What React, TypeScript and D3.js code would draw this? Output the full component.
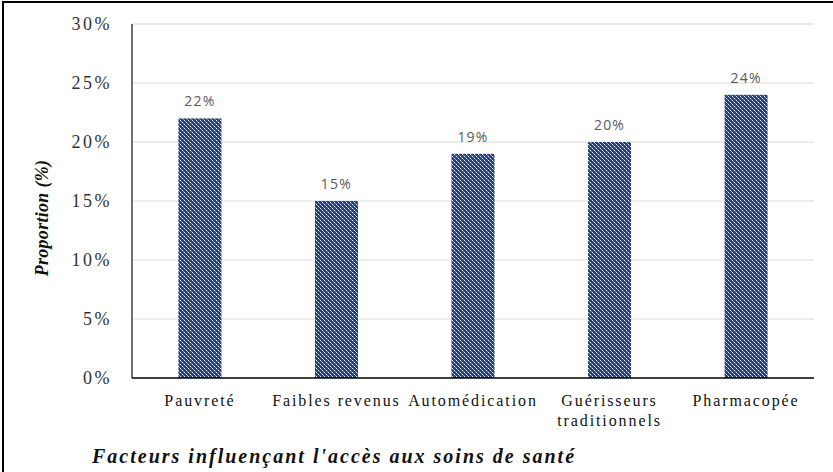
import { useEffect, useRef } from 'react'
import * as d3 from 'd3'

const categories = ['Pauvreté', 'Faibles revenus', 'Automédication', 'Guérisseurs\ntraditionnels', 'Pharmacopée']
const values = [22, 15, 19, 20, 24]
const yTicks = [0, 5, 10, 15, 20, 25, 30]

const width = 833
const height = 472

const App = () => {
  const ref = useRef<SVGSVGElement>(null)

  useEffect(() => {
    const svg = d3.select(ref.current)
    svg.selectAll('*').remove()

    const left = 132, right = 814, top = 24, bottom = 378

    const defs = svg.append('defs')
    const pat = defs.append('pattern')
      .attr('id', 'dots')
      .attr('patternUnits', 'userSpaceOnUse')
      .attr('width', 4)
      .attr('height', 4)
    pat.append('rect').attr('width', 4).attr('height', 4).attr('fill', '#22408c')
    pat.append('rect').attr('x', 0).attr('y', 0).attr('width', 1).attr('height', 1).attr('fill', '#eef2fa')
    pat.append('rect').attr('x', 2).attr('y', 2).attr('width', 1).attr('height', 1).attr('fill', '#eef2fa')
    pat.append('rect').attr('x', 1).attr('y', 1).attr('width', 1).attr('height', 1).attr('fill', '#7f94c8')
    pat.append('rect').attr('x', 3).attr('y', 3).attr('width', 1).attr('height', 1).attr('fill', '#7f94c8')

    svg.append('rect').attr('width', width).attr('height', height).attr('fill', '#fff')
    // frame (top + left only visible)
    svg.append('line').attr('x1', 2).attr('x2', width).attr('y1', 2).attr('y2', 2).attr('stroke', '#000').attr('stroke-width', 2)
    svg.append('line').attr('x1', 3).attr('x2', 3).attr('y1', 2).attr('y2', height).attr('stroke', '#000').attr('stroke-width', 2)

    const x = d3.scaleBand<string>().domain(categories).range([left, right]).paddingInner(0.685).paddingOuter(0.34)
    const y = d3.scaleLinear().domain([0, 30]).range([bottom, top])

    // gridlines
    svg.append('g').selectAll('line').data(yTicks.filter(t => t > 0)).enter().append('line')
      .attr('x1', left).attr('x2', right)
      .attr('y1', d => y(d)).attr('y2', d => y(d))
      .attr('stroke', '#d9d9d9').attr('stroke-width', 1)

    // y tick labels
    svg.append('g').selectAll('text').data(yTicks).enter().append('text')
      .attr('x', left - 20).attr('y', d => y(d))
      .attr('dy', '0.35em')
      .attr('text-anchor', 'end')
      .attr('font-family', '"Liberation Serif", serif')
      .attr('font-size', 18)
      .attr('letter-spacing', 2.5)
      .attr('fill', '#333')
      .text(d => `${d}%`)

    // bars
    svg.append('g').selectAll('rect').data(values).enter().append('rect')
      .attr('x', (d, i) => x(categories[i])!)
      .attr('y', d => y(d))
      .attr('width', x.bandwidth())
      .attr('height', d => bottom - y(d))
      .attr('fill', 'url(#dots)')

    // value labels
    svg.append('g').selectAll('text').data(values).enter().append('text')
      .attr('x', (d, i) => x(categories[i])! + x.bandwidth() / 2)
      .attr('y', d => y(d) - 12)
      .attr('text-anchor', 'middle')
      .attr('font-family', '"Open Sans", sans-serif')
      .attr('font-size', 14)
      .attr('letter-spacing', 1.2)
      .attr('fill', '#595959')
      .text(d => `${d}%`)

    // axes lines
    svg.append('line').attr('x1', left).attr('x2', left).attr('y1', top).attr('y2', bottom)
      .attr('stroke', '#404040').attr('stroke-width', 1.5)
    svg.append('line').attr('x1', left).attr('x2', right).attr('y1', bottom).attr('y2', bottom)
      .attr('stroke', '#000').attr('stroke-width', 1.5)

    // category labels
    const cat = svg.append('g').selectAll('text').data(categories).enter().append('text')
      .attr('y', 406)
      .attr('text-anchor', 'middle')
      .attr('font-family', '"Liberation Serif", serif')
      .attr('font-size', 16)
      .attr('letter-spacing', 1.9)
      .attr('fill', '#111')
    cat.each(function (d) {
      const lines = d.split('\n')
      d3.select(this).selectAll('tspan').data(lines).enter().append('tspan')
        .attr('x', x(d)! + x.bandwidth() / 2)
        .attr('dy', (_, i) => (i === 0 ? 0 : 20))
        .text(l => l)
    })

    // axis titles
    svg.append('text')
      .attr('x', 334).attr('y', 463)
      .attr('text-anchor', 'middle')
      .attr('font-family', '"Liberation Serif", serif')
      .attr('font-size', 20)
      .attr('letter-spacing', 2)
      .attr('font-weight', 'bold')
      .attr('font-style', 'italic')
      .attr('fill', '#111')
      .text("Facteurs influençant l'accès aux soins de santé")

    svg.append('text')
      .attr('transform', `translate(48, 218) rotate(-90)`)
      .attr('text-anchor', 'middle')
      .attr('font-family', '"Liberation Serif", serif')
      .attr('font-size', 18)
      .attr('letter-spacing', 0.3)
      .attr('font-weight', 'bold')
      .attr('font-style', 'italic')
      .attr('fill', '#111')
      .text('Proportion (%)')
  }, [])

  return (
    <svg ref={ref} width={width} height={height}
      style={{ position: 'fixed', top: 0, left: 0, display: 'block' }} />
  )
}

export default App
